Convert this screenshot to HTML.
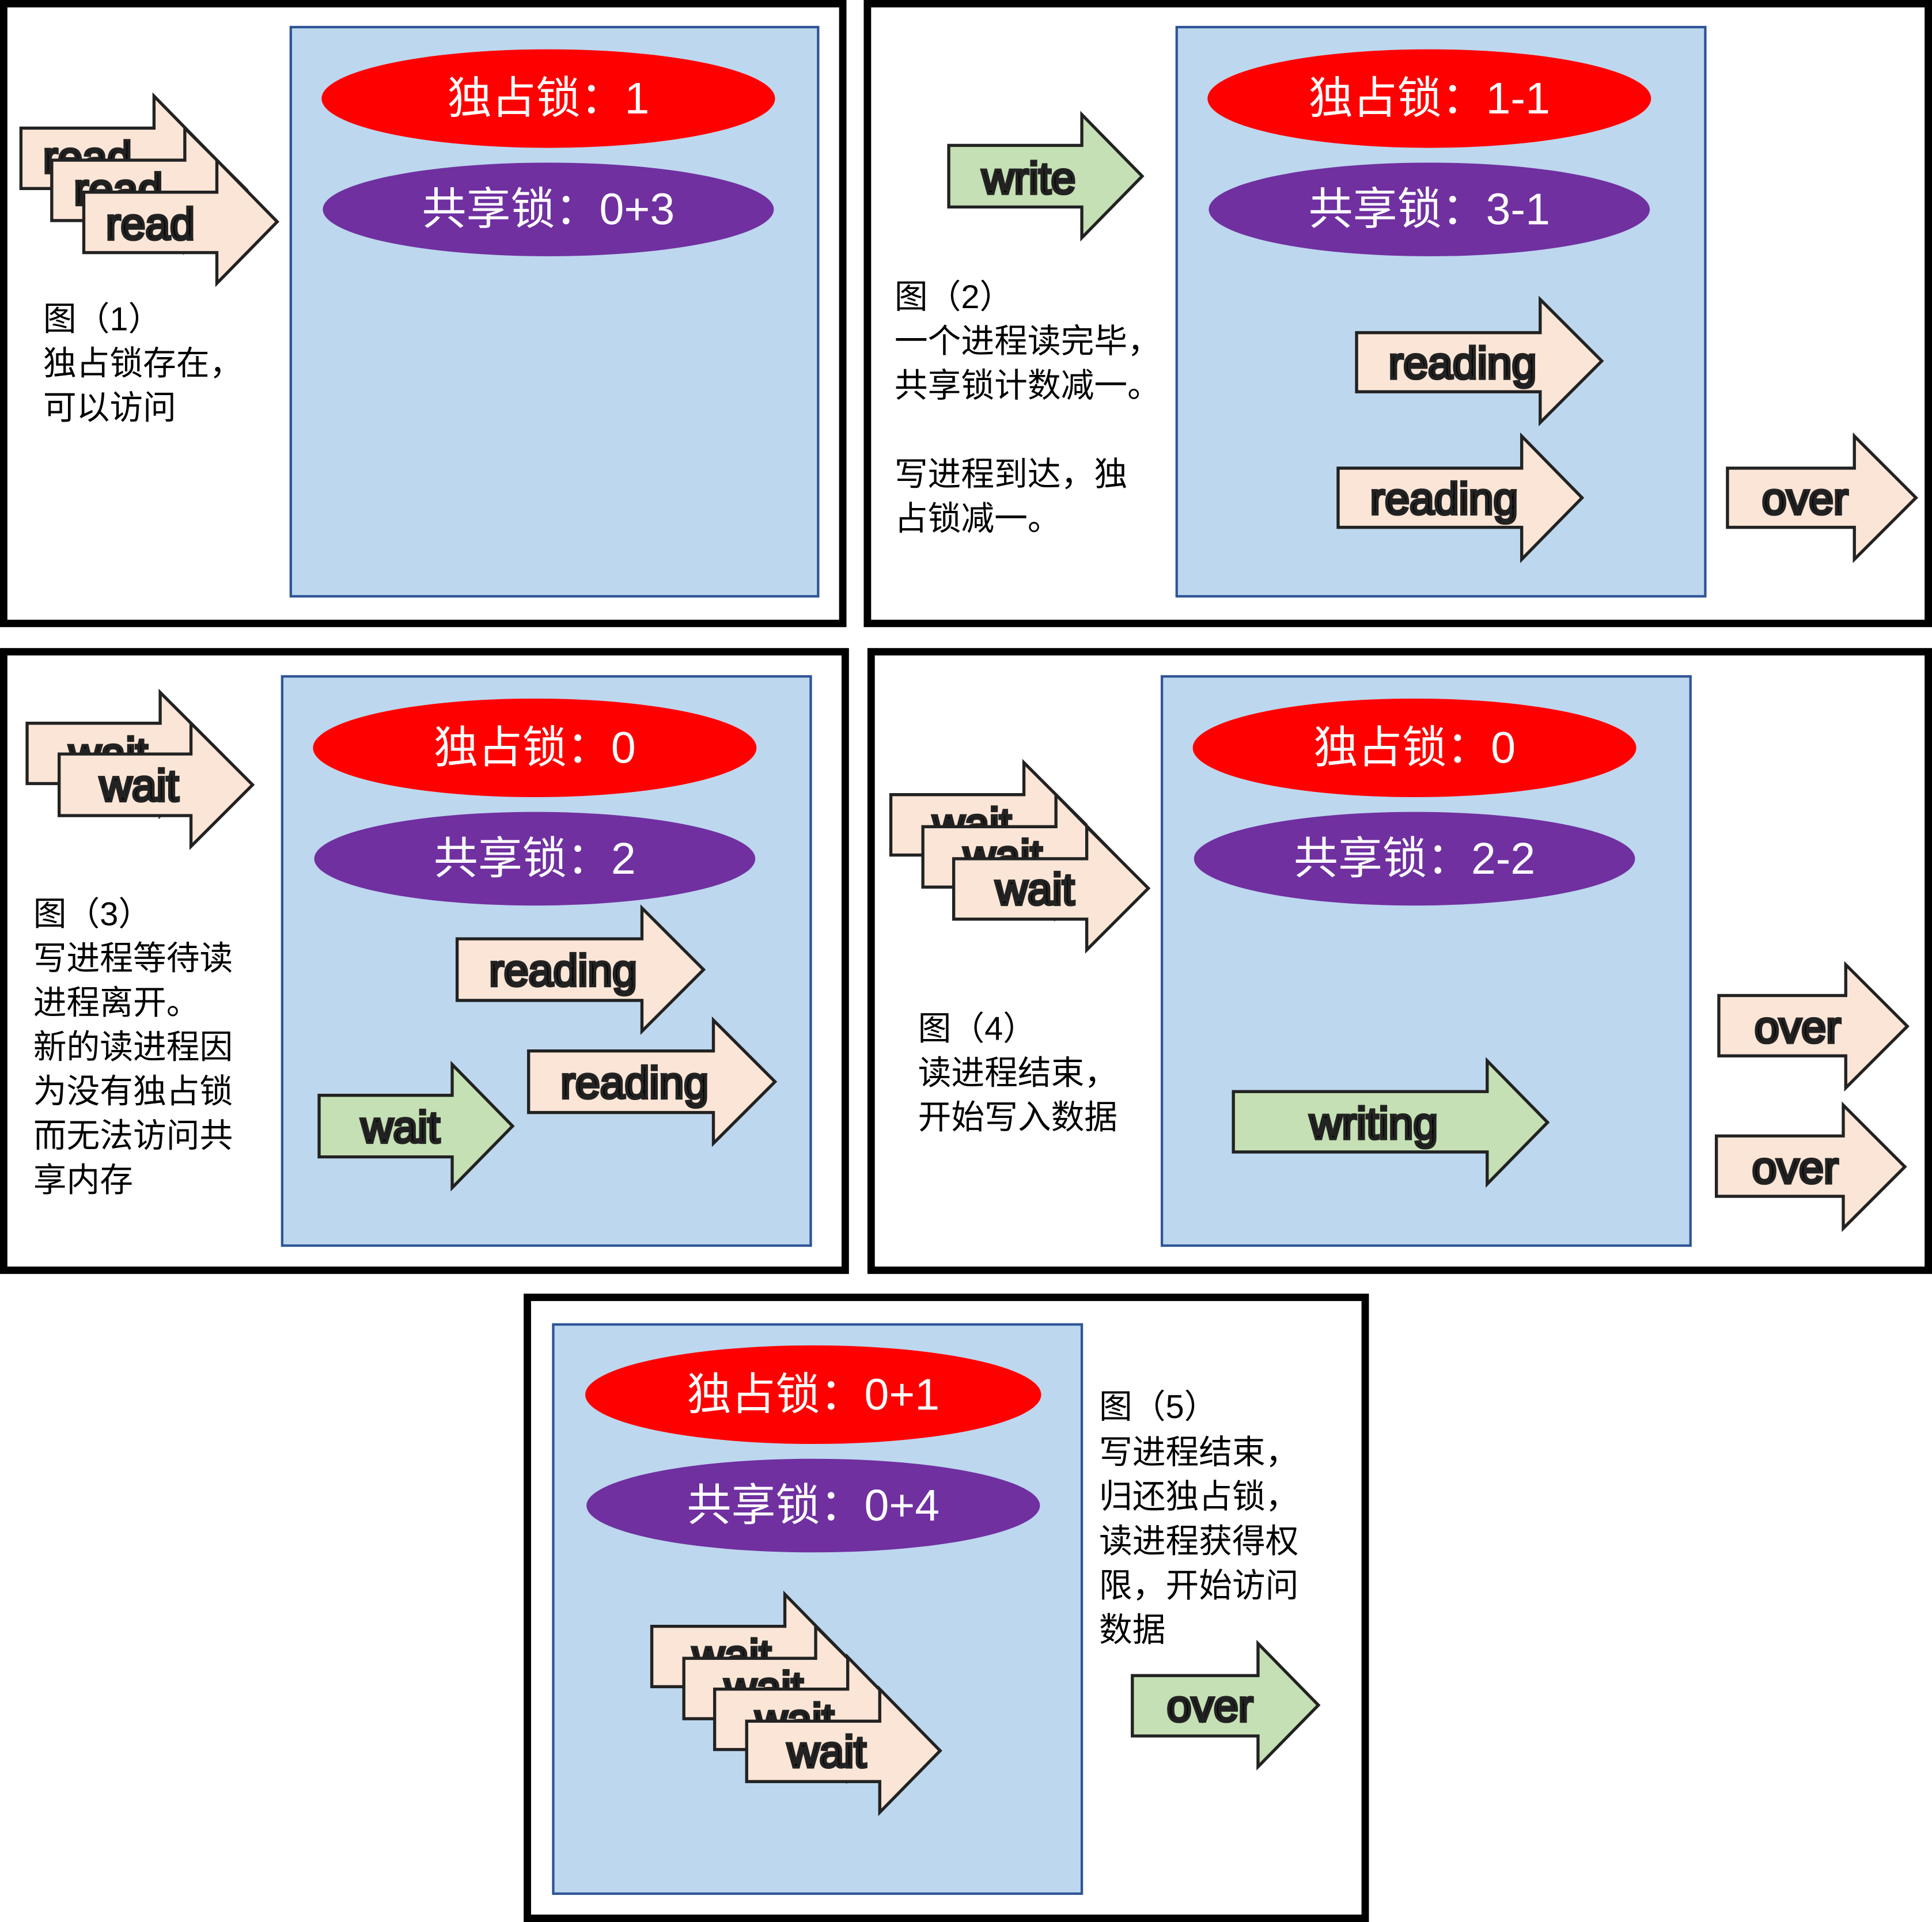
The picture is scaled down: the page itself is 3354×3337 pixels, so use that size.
<!DOCTYPE html>
<html><head><meta charset="utf-8"><style>
html,body{margin:0;padding:0;background:#fff;}
svg{display:block;}
text{font-family:"Liberation Sans","Noto Sans CJK SC",sans-serif;}
.lbl{font-size:27px;fill:#000;}
.at{font-size:36px;fill:#000;text-anchor:middle;dominant-baseline:central;}
.et{font-size:36px;fill:#fff;text-anchor:middle;dominant-baseline:central;}
</style></head><body>
<svg width="3354" height="3337" viewBox="0 0 1568 1560" preserveAspectRatio="none" xmlns="http://www.w3.org/2000/svg">
<defs></defs>
<g fill="none" stroke="#000" stroke-width="6">
<rect x="3" y="3" width="681" height="503"/>
<rect x="704" y="3" width="861" height="503"/>
<rect x="3" y="529" width="683" height="502"/>
<rect x="707" y="529" width="858" height="502"/>
<rect x="428" y="1053" width="680" height="504"/>
</g>
<g fill="#bdd7ee" stroke="#2f5597" stroke-width="2">
<rect x="236" y="22" width="428" height="462"/>
<rect x="955" y="22" width="429" height="462"/>
<rect x="229" y="549" width="429" height="462"/>
<rect x="943" y="549" width="429" height="462"/>
<rect x="449" y="1075" width="429" height="462"/>
</g>
<g>
<ellipse cx="445" cy="80" rx="184" ry="40" fill="#ff0000"/><text class="et" x="445" y="80">独占锁：1</text>
<ellipse cx="445" cy="170" rx="183" ry="38" fill="#7030a0"/><text class="et" x="445" y="170">共享锁：0+3</text>
<ellipse cx="1160" cy="80" rx="180" ry="40" fill="#ff0000"/><text class="et" x="1160" y="80">独占锁：1-1</text>
<ellipse cx="1160" cy="170" rx="179" ry="38" fill="#7030a0"/><text class="et" x="1160" y="170">共享锁：3-1</text>
<ellipse cx="434" cy="607" rx="180" ry="40" fill="#ff0000"/><text class="et" x="434" y="607">独占锁：0</text>
<ellipse cx="434" cy="697" rx="179" ry="38" fill="#7030a0"/><text class="et" x="434" y="697">共享锁：2</text>
<ellipse cx="1148" cy="607" rx="180" ry="40" fill="#ff0000"/><text class="et" x="1148" y="607">独占锁：0</text>
<ellipse cx="1148" cy="697" rx="179" ry="38" fill="#7030a0"/><text class="et" x="1148" y="697">共享锁：2-2</text>
<ellipse cx="660" cy="1132" rx="185" ry="40" fill="#ff0000"/><text class="et" x="660" y="1132">独占锁：0+1</text>
<ellipse cx="660" cy="1222" rx="184" ry="38" fill="#7030a0"/><text class="et" x="660" y="1222">共享锁：0+4</text>
</g>
<g stroke="#222" stroke-width="2.5">
<!-- panel 1 read arrows -->
<polygon fill="#fbe5d6" points="17,104 125,104 125,78 174,128 125,178 125,153 17,153"/><text class="at" x="71" y="128">read</text>
<polygon fill="#fbe5d6" points="42,130 150,130 150,104 200,154 150,204 150,179 42,179"/><text class="at" x="96" y="154">read</text>
<polygon fill="#fbe5d6" points="68,156 176,156 176,130 225,180 176,230 176,205 68,205"/><text class="at" x="122" y="182">read</text>
<!-- panel 2 -->
<polygon fill="#c5e0b4" points="770,118 878,118 878,93 927,143 878,193 878,168 770,168"/><text class="at" x="835" y="145">write</text>
<polygon fill="#fbe5d6" points="1101,270 1250,270 1250,243 1300,293 1250,343 1250,318 1101,318"/><text class="at" x="1187" y="295">reading</text>
<polygon fill="#fbe5d6" points="1086,380 1235,380 1235,354 1284,404 1235,454 1235,428 1086,428"/><text class="at" x="1172" y="405">reading</text>
<polygon fill="#fbe5d6" points="1402,380 1505,380 1505,354 1555,404 1505,454 1505,428 1402,428"/><text class="at" x="1465" y="405">over</text>
<!-- panel 3 -->
<polygon fill="#fbe5d6" points="22,587 130,587 130,562 180,612 130,662 130,636 22,636"/><text class="at" x="88" y="612">wait</text>
<polygon fill="#fbe5d6" points="48,612 155,612 155,587 205,637 155,687 155,662 48,662"/><text class="at" x="113" y="638">wait</text>
<polygon fill="#fbe5d6" points="371,762 521,762 521,737 571,787 521,837 521,812 371,812"/><text class="at" x="457" y="788">reading</text>
<polygon fill="#fbe5d6" points="429,853 579,853 579,828 629,878 579,928 579,903 429,903"/><text class="at" x="515" y="879">reading</text>
<polygon fill="#c5e0b4" points="259,889 367,889 367,864 416,914 367,964 367,939 259,939"/><text class="at" x="325" y="915">wait</text>
<!-- panel 4 -->
<polygon fill="#fbe5d6" points="723,645 831,645 831,619 881,669 831,719 831,694 723,694"/><text class="at" x="789" y="669">wait</text>
<polygon fill="#fbe5d6" points="749,671 857,671 857,645 906,695 857,745 857,720 749,720"/><text class="at" x="814" y="695">wait</text>
<polygon fill="#fbe5d6" points="774,697 882,697 882,671 932,721 882,771 882,746 774,746"/><text class="at" x="840" y="722">wait</text>
<polygon fill="#c5e0b4" points="1001,886 1207,886 1207,861 1256,911 1207,961 1207,935 1001,935"/><text class="at" x="1115" y="912">writing</text>
<polygon fill="#fbe5d6" points="1395,808 1498,808 1498,783 1548,833 1498,883 1498,857 1395,857"/><text class="at" x="1459" y="834">over</text>
<polygon fill="#fbe5d6" points="1393,922 1496,922 1496,897 1546,947 1496,997 1496,971 1393,971"/><text class="at" x="1457" y="948">over</text>
<!-- panel 5 -->
<polygon fill="#fbe5d6" points="529,1320 637,1320 637,1294 686,1344 637,1394 637,1369 529,1369"/><text class="at" x="594" y="1344">wait</text>
<polygon fill="#fbe5d6" points="555,1346 662,1346 662,1320 712,1370 662,1420 662,1395 555,1395"/><text class="at" x="620" y="1370">wait</text>
<polygon fill="#fbe5d6" points="580,1371 688,1371 688,1345 737,1395 688,1445 688,1420 580,1420"/><text class="at" x="645" y="1396">wait</text>
<polygon fill="#fbe5d6" points="606,1397 714,1397 714,1371 763,1421 714,1471 714,1446 606,1446"/><text class="at" x="671" y="1422">wait</text>
<polygon fill="#c5e0b4" points="919,1360 1021,1360 1021,1334 1070,1384 1021,1434 1021,1409 919,1409"/><text class="at" x="982" y="1385">over</text>
</g>
<g class="lbl">
<text class="lbl" x="35" y="268">图（1）</text>
<text class="lbl" x="35" y="304">独占锁存在，</text>
<text class="lbl" x="35" y="340">可以访问</text>
<text class="lbl" x="726" y="250">图（2）</text>
<text class="lbl" x="726" y="286">一个进程读完毕，</text>
<text class="lbl" x="726" y="322">共享锁计数减一。</text>
<text class="lbl" x="726" y="394">写进程到达，独</text>
<text class="lbl" x="726" y="430">占锁减一。</text>
<text class="lbl" x="27" y="751">图（3）</text>
<text class="lbl" x="27" y="787">写进程等待读</text>
<text class="lbl" x="27" y="823">进程离开。</text>
<text class="lbl" x="27" y="859">新的读进程因</text>
<text class="lbl" x="27" y="895">为没有独占锁</text>
<text class="lbl" x="27" y="931">而无法访问共</text>
<text class="lbl" x="27" y="967">享内存</text>
<text class="lbl" x="745" y="844">图（4）</text>
<text class="lbl" x="745" y="880">读进程结束，</text>
<text class="lbl" x="745" y="916">开始写入数据</text>
<text class="lbl" x="892" y="1151">图（5）</text>
<text class="lbl" x="892" y="1188">写进程结束，</text>
<text class="lbl" x="892" y="1224">归还独占锁，</text>
<text class="lbl" x="892" y="1260">读进程获得权</text>
<text class="lbl" x="892" y="1296">限，开始访问</text>
<text class="lbl" x="892" y="1332">数据</text>
</g>
</svg>
</body></html>
